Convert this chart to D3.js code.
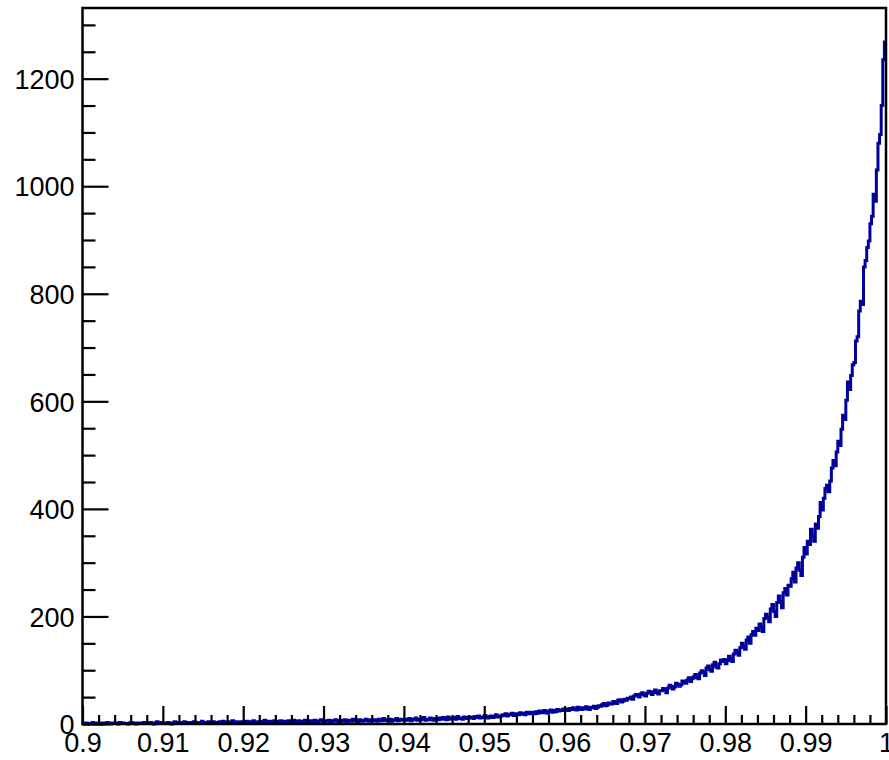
<!DOCTYPE html>
<html>
<head>
<meta charset="utf-8">
<script src="https://cdn.jsdelivr.net/npm/d3@7"></script>
<style>
  body { margin: 0; background: #fff; }
  .tick text { font-family: "Liberation Sans", Arial, Helvetica, sans-serif; font-size: 27px; fill: #000; }
  .tick line { stroke: #000; stroke-width: 2.2px; }
</style>
</head>
<body>
<svg class="chart"></svg>
<script>
// histogram range and bin contents (500 bins, 0.9 -> 1.0)
var xMin = 0.9;
var xMax = 1.0;
var counts = [
  0,1,2,0,1,1,3,0,1,2,1,0,2,1,1,3,1,0,2,1,
  1,2,0,3,1,2,1,1,0,2,3,1,2,0,1,2,2,1,3,1,
  2,1,3,2,0,2,4,1,2,3,1,2,2,3,1,0,2,4,2,1,
  3,2,1,4,2,3,2,1,3,4,2,3,1,2,5,2,3,2,4,1,
  3,4,2,3,1,4,3,5,2,3,4,2,3,6,2,4,3,1,4,3,
  4,3,5,2,4,3,6,4,2,3,5,4,3,7,2,4,5,3,4,6,
  3,5,4,6,2,4,5,3,6,4,5,7,3,4,6,5,3,4,7,5,
  4,6,5,3,7,5,4,6,8,5,3,6,5,7,4,6,5,8,6,4,
  7,5,6,8,4,6,7,5,9,6,7,4,8,6,5,7,9,6,5,8,
  6,8,7,5,9,7,6,10,8,6,7,9,5,8,7,10,6,8,9,7,
  9,7,8,10,6,9,8,11,7,9,8,10,12,7,9,8,11,9,7,10,
  10,8,11,9,12,10,8,13,9,11,10,12,9,14,10,11,9,13,12,10,
  11,13,12,10,14,12,15,11,13,12,16,13,11,14,15,12,14,17,13,15,
  15,17,16,19,15,18,17,20,16,18,19,17,21,18,20,17,22,21,19,22,
  21,19,23,20,24,22,21,25,23,20,24,26,22,25,23,27,24,26,25,28,
  26,28,25,29,27,30,28,26,31,29,27,30,28,32,29,27,31,30,33,29,
  31,34,33,36,38,34,35,39,37,37,42,40,38,44,45,41,43,46,44,48,
  47,50,46,52,55,53,50,56,58,54,52,57,61,59,55,60,63,58,56,62,
  62,66,64,58,67,72,70,65,69,76,74,70,73,80,78,76,82,86,79,84,
  88,92,86,84,95,99,96,90,104,108,101,98,110,115,106,104,112,119,116,120,
  112,118,126,121,116,130,137,133,128,142,150,144,139,156,162,150,166,172,165,178,
  174,186,180,172,196,204,198,190,214,222,209,200,226,238,228,216,244,252,240,258,
  256,270,282,264,290,300,286,276,310,328,316,340,334,362,350,340,372,364,386,412,
  398,420,438,444,432,452,476,490,480,506,526,518,548,574,566,602,636,622,648,668,
  672,712,720,768,786,780,850,862,886,898,930,944,985,972,1030,1080,1096,1150,1235,1268
];

// axis ticks
var xMajor = [0.9, 0.91, 0.92, 0.93, 0.94, 0.95, 0.96, 0.97, 0.98, 0.99, 1.0];
var xLabels = ['0.9', '0.91', '0.92', '0.93', '0.94', '0.95', '0.96', '0.97', '0.98', '0.99', '1'];
var yMajor = [0, 200, 400, 600, 800, 1000, 1200];
var yMinorStep = 50;
var xMinorStep = 0.002;

var W = 889, H = 760;
var frame = { left: 82.5, right: 886, top: 8, bottom: 724 };

var svg = d3.select('.chart')
  .attr('width', W)
  .attr('height', H);

var nBins = counts.length;
var binW = (xMax - xMin) / nBins;

var x = d3.scaleLinear().domain([xMin, xMax]).range([frame.left, frame.right]);
var y = d3.scaleLinear().domain([0, d3.max(counts) * 1.05]).range([frame.bottom, frame.top]);

// minor tick positions
var xMinor = d3.range(0, 51).map(i => xMin + i * xMinorStep).filter((d, i) => i % 5 != 0);
var yMinor = d3.range(0, y.domain()[1], yMinorStep).filter(d => d % 200 != 0);

// histogram outline
var pts = [[xMin, 0]];
counts.forEach((c, i) => {
  pts.push([xMin + i * binW, c]);
  pts.push([xMin + (i + 1) * binW, c]);
});

var line = d3.line()
  .x(d => x(d[0]))
  .y(d => y(d[1]));

svg.append('path')
  .datum(pts)
  .attr('d', line)
  .attr('fill', 'none')
  .attr('stroke', '#00009a')
  .attr('stroke-width', 3)
  .attr('stroke-linejoin', 'miter');

//X axis
var xAxis = svg.append('g')
  .attr('transform', 'translate(0,' + frame.bottom + ')');
xAxis.append('g')
  .call(d3.axisBottom(x).tickValues(xMinor).tickSize(-9).tickFormat(''));
xAxis.append('g')
  .call(d3.axisBottom(x).tickValues(xMajor).tickSize(-18).tickFormat((d, i) => xLabels[i]));
xAxis.selectAll('.domain').remove();
xAxis.selectAll('.tick text').attr('y', 28).attr('dy', 0);

//Y axis
var yAxis = svg.append('g')
  .attr('transform', 'translate(' + frame.left + ',0)');
yAxis.append('g')
  .call(d3.axisLeft(y).tickValues(yMinor).tickSize(-13).tickFormat(''));
yAxis.append('g')
  .call(d3.axisLeft(y).tickValues(yMajor).tickSize(-26).tickFormat(d3.format('d')));
yAxis.selectAll('.domain').remove();
yAxis.selectAll('.tick text').attr('x', -8).attr('dy', '0.36em');

// frame
svg.append('rect')
  .attr('x', frame.left)
  .attr('y', frame.top)
  .attr('width', frame.right - frame.left)
  .attr('height', frame.bottom - frame.top)
  .attr('fill', 'none')
  .attr('stroke', '#000')
  .attr('stroke-width', 2.5);
</script>
</body>
</html>
